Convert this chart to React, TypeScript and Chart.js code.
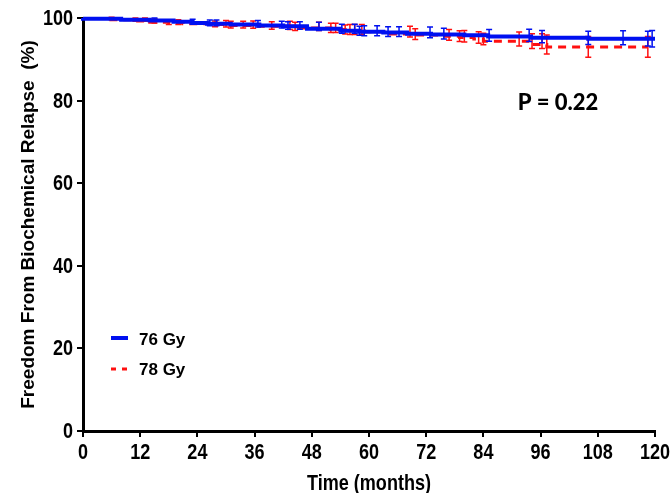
import React, { useEffect, useRef } from "react";
import { Chart, registerables } from "chart.js";

Chart.register(...registerables);

// ---- Data ----
const seriesLabels = ["76 Gy", "78 Gy"];
const pValueText = "P = 0.22";
const xTitle = "Time (months)";
const yTitle = "Freedom From Biochemical Relapse  (%)";

// Kaplan–Meier step points for 76 Gy
const time76 = [0, 8, 14, 19, 23, 26, 31, 37, 42, 47, 54, 58, 63, 68, 73, 80, 85, 94, 106, 118, 120];
const surv76 = [100, 99.8, 99.6, 99.4, 99.1, 98.8, 98.6, 98.4, 98.2, 98.0, 97.4, 96.9, 96.7, 96.5, 96.2, 96.0, 95.8, 95.5, 95.2, 95.0, 95.0];
// Kaplan–Meier step points for 78 Gy
const time78 = [0, 5, 11, 14, 18, 21, 27, 31, 36, 44, 52, 55, 59, 64, 69, 76, 79, 82, 84, 93.6, 97.3, 106, 118.5];
const surv78 = [100, 99.9, 99.6, 99.3, 99.0, 98.8, 98.6, 98.4, 98.2, 98.0, 97.6, 97.2, 96.9, 96.7, 96.1, 95.9, 95.6, 95.3, 94.9, 94.4, 93.6, 93.0, 93.0];

// Censor marks with error half-widths (percentage points)
const censor76 = [15, 23, 26.6, 28, 36.7, 41.7, 43, 45.5, 49.5, 54.3, 57, 58, 59, 61.7, 64, 66.3, 72.8, 75.7, 85.2, 93.6, 96.3, 106, 113.3, 118.5, 119.4];
const err76 = [0.4, 0.6, 0.7, 0.7, 0.8, 0.8, 0.9, 0.9, 1.0, 1.1, 1.1, 1.1, 1.2, 1.2, 1.2, 1.2, 1.3, 1.3, 1.4, 1.5, 1.5, 1.6, 1.7, 1.8, 2.0];
const censor78 = [6, 11, 13, 15, 18, 20, 27.7, 30, 31, 33.6, 35.7, 39.6, 43.4, 44.5, 49.5, 52, 53, 55, 56, 57, 58.5, 68.6, 69.7, 76.8, 79, 80, 83, 84, 91.5, 94.2, 96.3, 97.3, 106, 118.5];
const err78 = [0.3, 0.4, 0.4, 0.5, 0.6, 0.6, 0.7, 0.8, 0.8, 0.8, 0.9, 0.9, 1.0, 1.0, 1.0, 1.1, 1.1, 1.1, 1.2, 1.2, 1.2, 1.3, 1.3, 1.3, 1.3, 1.4, 1.4, 1.4, 1.7, 1.8, 1.8, 2.3, 2.5, 2.5];

const xTicks = [0, 12, 24, 36, 48, 60, 72, 84, 96, 108, 120];
const yTicks = [0, 20, 40, 60, 80, 100];

const BLUE = "#0010f0";
const RED = "#ff1010";
const SANS = "'Liberation Sans', Arial, sans-serif";
const NARROW_SCALE = 0.82;

function kmAt(times: number[], surv: number[], t: number) {
  let v = surv[0];
  for (let i = 0; i < times.length; i++) {
    if (times[i] <= t) v = surv[i];
  }
  return v;
}

function narrowText(ctx: any, text: string, x: number, y: number) {
  ctx.save();
  ctx.translate(x, y);
  ctx.scale(NARROW_SCALE, 1);
  ctx.fillText(text, 0, 0);
  ctx.restore();
}

const errorBarPlugin = {
  id: "kmErrorBars",
  afterDatasetDraw(chart: any, args: any) {
    const ds: any = chart.data.datasets[args.index];
    if (!ds.censorTimes) return;
    const ctx = chart.ctx;
    const xs = chart.scales.x;
    const ys = chart.scales.y;
    ctx.save();
    ctx.strokeStyle = ds.borderColor;
    ctx.lineWidth = 1.5;
    ctx.setLineDash([]);
    for (let i = 0; i < ds.censorTimes.length; i++) {
      const t = ds.censorTimes[i];
      const v = kmAt(ds.kmTimes, ds.kmSurv, t);
      const e = ds.censorErr[i];
      const x = xs.getPixelForValue(t);
      const yt = ys.getPixelForValue(v + e);
      const yb = ys.getPixelForValue(v - e);
      ctx.beginPath();
      ctx.moveTo(x, yt);
      ctx.lineTo(x, yb);
      ctx.moveTo(x - 3, yt);
      ctx.lineTo(x + 3, yt);
      ctx.moveTo(x - 3, yb);
      ctx.lineTo(x + 3, yb);
      ctx.stroke();
    }
    ctx.restore();
  },
};

const labelsPlugin = {
  id: "kmLabels",
  afterDraw(chart: any) {
    const ctx = chart.ctx;
    const a = chart.chartArea;
    const xs = chart.scales.x;
    const ys = chart.scales.y;
    ctx.save();
    ctx.fillStyle = "#000";
    // tick labels (condensed bold)
    ctx.font = `bold 22px ${SANS}`;
    ctx.textBaseline = "middle";
    ctx.textAlign = "center";
    xTicks.forEach((v) => narrowText(ctx, String(v), xs.getPixelForValue(v), a.bottom + 22));
    ctx.textAlign = "right";
    yTicks.forEach((v) => narrowText(ctx, String(v), a.left - 10, ys.getPixelForValue(v) + 1));
    // x title
    ctx.textAlign = "center";
    ctx.font = `bold 22px ${SANS}`;
    narrowText(ctx, xTitle, (a.left + a.right) / 2, a.bottom + 53);

    // P value
    ctx.font = "900 22px Lato, 'Open Sans', sans-serif";
    ctx.textAlign = "center";
    ctx.textBaseline = "middle";
    ctx.fillText(pValueText, a.left + 475, a.top + 85);

    // Legend
    const lx = a.left + 28;
    const rows = [a.top + 320, a.top + 351];
    ctx.lineWidth = 4;
    ctx.strokeStyle = BLUE;
    ctx.beginPath();
    ctx.moveTo(lx, rows[0]);
    ctx.lineTo(lx + 17, rows[0]);
    ctx.stroke();
    ctx.lineWidth = 3;
    ctx.strokeStyle = RED;
    ctx.setLineDash([5, 6]);
    ctx.beginPath();
    ctx.moveTo(lx, rows[1]);
    ctx.lineTo(lx + 17, rows[1]);
    ctx.stroke();
    ctx.setLineDash([]);
    ctx.font = `bold 17px ${SANS}`;
    ctx.textAlign = "left";
    ctx.fillText(seriesLabels[0], lx + 28, rows[0] + 2);
    ctx.fillText(seriesLabels[1], lx + 28, rows[1] + 1);
    ctx.restore();
  },
};

export default function App() {
  const ref = useRef<HTMLCanvasElement | null>(null);
  useEffect(() => {
    if (!ref.current) return;
    const chart = new Chart(ref.current, {
      type: "line",
      data: {
        datasets: [
          {
            label: seriesLabels[0],
            data: time76.map((t, i) => ({ x: t, y: surv76[i] })),
            borderColor: BLUE,
            borderWidth: 4,
            stepped: "after",
            pointRadius: 0,
            fill: false,
            clip: false,
            kmTimes: time76,
            kmSurv: surv76,
            censorTimes: censor76,
            censorErr: err76,
          } as any,
          {
            label: seriesLabels[1],
            data: time78.map((t, i) => ({ x: t, y: surv78[i] })),
            borderColor: RED,
            borderWidth: 3,
            borderDash: [8, 6],
            stepped: "after",
            pointRadius: 0,
            fill: false,
            clip: false,
            kmTimes: time78,
            kmSurv: surv78,
            censorTimes: censor78,
            censorErr: err78,
          } as any,
        ],
      },
      options: {
        animation: false,
        responsive: true,
        maintainAspectRatio: false,
        layout: { padding: { top: 18, right: 17, left: 0, bottom: 0 } },
        plugins: { legend: { display: false }, tooltip: { enabled: false } },
        scales: {
          x: {
            type: "linear",
            min: 0,
            max: 120,
            afterBuildTicks: (s: any) => {
              s.ticks = xTicks.map((v) => ({ value: v }));
            },
            afterFit: (s: any) => {
              s.height = 62;
            },
            ticks: { display: false },
            grid: { drawOnChartArea: false, drawTicks: true, tickLength: 6, color: "#000", lineWidth: 2 },
            border: { color: "#000", width: 3 },
          },
          y: {
            type: "linear",
            min: 0,
            max: 100,
            afterBuildTicks: (s: any) => {
              s.ticks = yTicks.map((v) => ({ value: v }));
            },
            afterFit: (s: any) => {
              s.width = 83;
            },
            ticks: { display: false },
            grid: { drawOnChartArea: false, drawTicks: true, tickLength: 6, color: "#000", lineWidth: 2 },
            border: { color: "#000", width: 3 },
            title: {
              display: true,
              text: yTitle,
              color: "#000",
              font: { family: SANS, size: 19, weight: "bold", lineHeight: 1 },
              padding: { top: 19, bottom: 0 },
            },
          },
        },
      } as any,
      plugins: [errorBarPlugin, labelsPlugin],
    });
    return () => chart.destroy();
  }, []);
  return (
    <div style={{ position: "absolute", left: 0, top: 0, width: 672, height: 493, background: "#fff" }}>
      <canvas ref={ref} />
    </div>
  );
}
